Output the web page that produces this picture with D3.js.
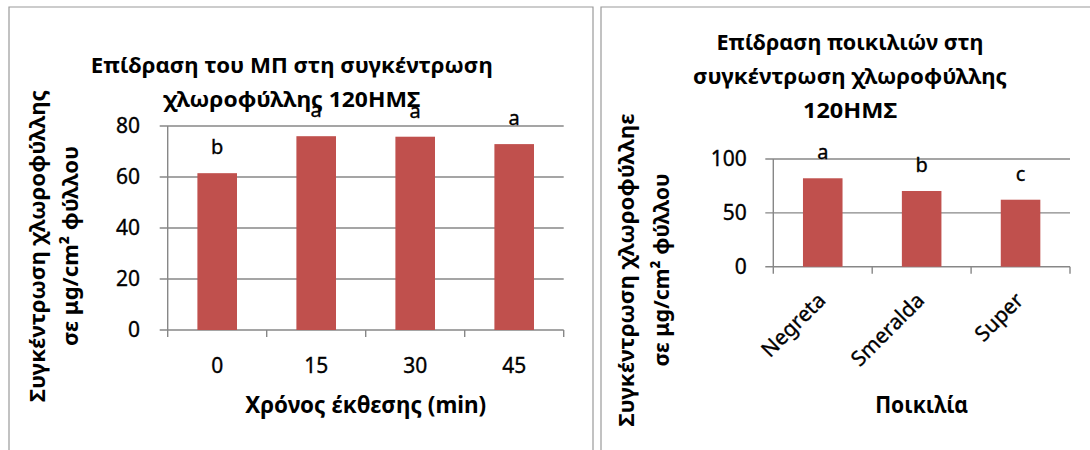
<!DOCTYPE html>
<html>
<head>
<meta charset="utf-8">
<script src="https://cdn.jsdelivr.net/npm/d3@7"></script>
<style>
  html, body { margin: 0; padding: 0; background: #fff; }
  svg { display: block; font-family: "Noto Sans", "DejaVu Sans", sans-serif; }
  .reg { stroke: #000; stroke-width: 0.35px; }
</style>
</head>
<body>
<svg id="chart" width="1090" height="450"></svg>
<script>
// Exposure time experiment (chlorophyll, 120 days after sowing)
const exposureTimes = ["0", "15", "30", "45"];
const chlorophyllByTime = [61.5, 76.0, 75.8, 72.9];
const timeGroups = ["b", "a", "a", "a"];
const timeTicks = [0, 20, 40, 60, 80];

// Variety experiment
const varieties = ["Negreta", "Smeralda", "Super"];
const chlorophyllByVariety = [82.1, 70.3, 62.2];
const varietyGroups = ["a", "b", "c"];
const varietyTicks = [0, 50, 100];

// Text
const titleTime = ["Επίδραση του ΜΠ στη συγκέντρωση", "χλωροφύλλης 120ΗΜΣ"];
const titleVariety = ["Επίδραση ποικιλιών στη", "συγκέντρωση χλωροφύλλης", "120ΗΜΣ"];
const xTitleTime = "Χρόνος έκθεσης (min)";
const xTitleVariety = "Ποικιλία";
const yTitleTime = ["Συγκέντρωση χλωροφύλλης", "σε μg/cm² φύλλου"];
const yTitleVariety = ["Συγκέντρωση χλωροφύλληε", "σε μg/cm² φύλλου"];

const BAR = "#C0504D";
const GRID = "#878787";
const FRAME = "#9a9a9a";

const svg = d3.select("#chart");

function fitWidth(sel, w) {
  sel.attr("textLength", w).attr("lengthAdjust", "spacingAndGlyphs");
}

function drawPanel(cfg) {
  const g = svg.append("g");

  // chart frame
  g.append("path")
    .attr("d", cfg.frame)
    .attr("fill", "none")
    .attr("stroke", FRAME)
    .attr("stroke-width", 1.2);

  const x = d3.scaleBand()
    .domain(cfg.categories)
    .range([cfg.left, cfg.right])
    .paddingInner(0.6)
    .paddingOuter(0.3);
  const slots = d3.scaleBand()
    .domain(cfg.categories)
    .range([cfg.left, cfg.right]);
  const y = d3.scaleLinear()
    .domain([0, d3.max(cfg.ticks)])
    .range([cfg.bottom, cfg.top]);

  // horizontal gridlines (the zero line doubles as the category axis)
  g.append("g").selectAll("line")
    .data(cfg.ticks)
    .join("line")
    .attr("x1", cfg.left - 8)
    .attr("x2", cfg.right)
    .attr("y1", d => y(d))
    .attr("y2", d => y(d))
    .attr("stroke", GRID)
    .attr("stroke-width", 1.4);

  // value axis line
  g.append("line")
    .attr("x1", cfg.left).attr("x2", cfg.left)
    .attr("y1", y(d3.max(cfg.ticks))).attr("y2", cfg.bottom + 7)
    .attr("stroke", GRID).attr("stroke-width", 1.4);

  // category boundary tick marks
  const bounds = cfg.categories.slice(1).map(c => slots(c)).concat([cfg.right]);
  g.append("g").selectAll("line")
    .data(bounds)
    .join("line")
    .attr("x1", d => d).attr("x2", d => d)
    .attr("y1", cfg.bottom).attr("y2", cfg.bottom + 7)
    .attr("stroke", GRID).attr("stroke-width", 1.4);

  // value tick labels
  const yAxis = d3.axisLeft(y).tickValues(cfg.ticks).tickSize(0).tickPadding(cfg.left - cfg.labelRight);
  const ya = g.append("g")
    .attr("transform", `translate(${cfg.left},0)`)
    .call(yAxis);
  ya.select(".domain").remove();
  ya.attr("font-family", null).attr("font-size", 21);
  ya.selectAll("text").attr("fill", "#000").attr("class", "reg");

  // bars
  g.append("g").selectAll("rect")
    .data(cfg.values)
    .join("rect")
    .attr("x", (d, i) => x(cfg.categories[i]))
    .attr("width", x.bandwidth())
    .attr("y", d => y(d))
    .attr("height", d => cfg.bottom - y(d))
    .attr("fill", BAR);

  // significance letters
  g.append("g").selectAll("text")
    .data(cfg.values)
    .join("text")
    .attr("class", "reg")
    .attr("x", (d, i) => x(cfg.categories[i]) + x.bandwidth() / 2)
    .attr("y", d => y(d) - 19)
    .attr("text-anchor", "middle")
    .attr("font-size", 20)
    .attr("fill", "#000")
    .text((d, i) => cfg.groups[i]);

  // category labels
  const xAxis = d3.axisBottom(x).tickSize(0).tickPadding(cfg.rotate ? 0 : 28.4);
  const xa = g.append("g")
    .attr("transform", `translate(0,${cfg.bottom})`)
    .call(xAxis);
  xa.select(".domain").remove();
  xa.attr("font-family", null).attr("font-size", 21);
  xa.selectAll("text").attr("fill", "#000").attr("class", "reg");
  if (cfg.rotate) {
    xa.selectAll("text")
      .attr("y", 0)
      .attr("dy", 0)
      .attr("text-anchor", "end")
      .attr("transform", "translate(4,35) rotate(-45)");
  }

  // chart title
  g.append("g").selectAll("text")
    .data(cfg.title)
    .join("text")
    .attr("x", cfg.titleX)
    .attr("y", (d, i) => cfg.titleY[i])
    .attr("text-anchor", "middle")
    .attr("font-size", 21)
    .attr("font-weight", "bold")
    .attr("fill", "#000")
    .text(d => d)
    .each(function (d, i) { fitWidth(d3.select(this), cfg.titleW[i]); });

  // category axis title
  g.append("text")
    .attr("x", (cfg.left + cfg.right) / 2)
    .attr("y", cfg.xTitleY)
    .attr("text-anchor", "middle")
    .attr("font-size", 23)
    .attr("font-weight", "bold")
    .attr("fill", "#000")
    .text(cfg.xTitle)
    .call(fitWidth, cfg.xTitleW);

  // value axis title, two rotated lines
  g.append("g").selectAll("text")
    .data(cfg.yTitle)
    .join("text")
    .attr("transform", (d, i) => `translate(${cfg.yTitleX[i]},${cfg.yTitleCY}) rotate(-90)`)
    .attr("text-anchor", "middle")
    .attr("font-size", 22)
    .attr("font-weight", "bold")
    .attr("fill", "#000")
    .text(d => d)
    .each(function (d, i) { fitWidth(d3.select(this), cfg.yTitleW[i]); });
}

drawPanel({
  frame: "M9,451 V7 H593 V451",
  categories: exposureTimes,
  values: chlorophyllByTime,
  groups: timeGroups,
  ticks: timeTicks,
  left: 167.7, right: 563.7, top: 126, bottom: 330,
  labelRight: 140,
  rotate: false,
  title: titleTime, titleX: 291.7, titleY: [73, 106.5], titleW: [402, 257],
  xTitle: xTitleTime, xTitleY: 413, xTitleW: 241,
  yTitle: yTitleTime, yTitleX: [45, 78], yTitleCY: 246, yTitleW: [312, 200]
});

drawPanel({
  frame: "M601,451 V7 H1091",
  categories: varieties,
  values: chlorophyllByVariety,
  groups: varietyGroups,
  ticks: varietyTicks,
  left: 773.3, right: 1070, top: 159, bottom: 266.7,
  labelRight: 746.7,
  rotate: true,
  title: titleVariety, titleX: 850, titleY: [50, 84, 118], titleW: [267, 314, 94],
  xTitle: xTitleVariety, xTitleY: 413, xTitleW: 93,
  yTitle: yTitleVariety, yTitleX: [634, 669], yTitleCY: 270, yTitleW: [313, 193]
});
</script>
</body>
</html>
